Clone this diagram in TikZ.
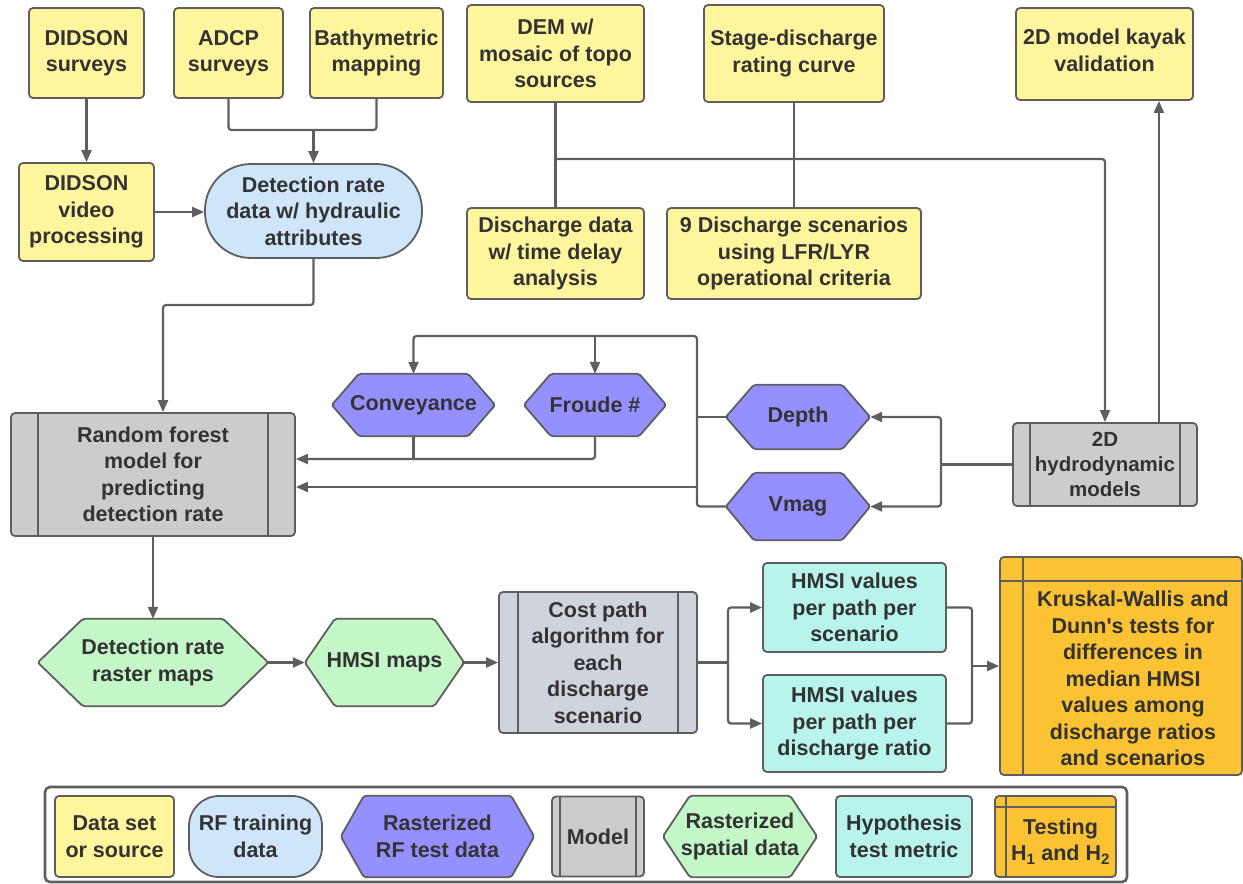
\documentclass[tikz,border=0pt]{standalone}
\usepackage{fontspec}
\setmainfont{Liberation Sans}
\usetikzlibrary{arrows.meta,backgrounds,calc}
\definecolor{edge}{HTML}{5E5E5E}
\definecolor{txt}{HTML}{333333}
\definecolor{ysrc}{HTML}{FFF59D}
\definecolor{bstad}{HTML}{CFE5FA}
\definecolor{purp}{HTML}{9490FF}
\definecolor{gproc}{HTML}{CCCCCC}
\definecolor{gcost}{HTML}{CED3DC}
\definecolor{grn}{HTML}{C3F7C8}
\definecolor{cyan}{HTML}{B8F4EC}
\definecolor{orng}{HTML}{FBC234}
\newcommand\mainfnt{\bfseries\fontsize{21.5}{26.5}\selectfont}
\newcommand\smallfnt{\bfseries\fontsize{20.5}{25}\selectfont}
% hexagon outline drawn behind a named node
\newcommand\hexof[3]{%
  \begin{pgfonlayer}{background}
    \path[draw=edge, line width=1.8pt, fill=#3, rounded corners=2pt]
      (#1.west) -- ([xshift=#2]#1.north west) -- ([xshift=-#2]#1.north east)
      -- (#1.east) -- ([xshift=-#2]#1.south east) -- ([xshift=#2]#1.south west) -- cycle;
  \end{pgfonlayer}}
% the two inner bars of a process box
\newcommand\barsof[2]{%
  \draw[draw=edge, line width=1.8pt] ([xshift=#2]#1.north west) -- ([xshift=#2]#1.south west);
  \draw[draw=edge, line width=1.8pt] ([xshift=-#2]#1.north east) -- ([xshift=-#2]#1.south east);}
\begin{document}
\begin{tikzpicture}[x=1pt,y=-1pt,
  box/.style={draw=edge, line width=1.8pt, rounded corners=4pt, inner sep=0pt,
              align=center, text=txt, font=\mainfnt},
  src/.style={box, fill=ysrc},
  proc/.style={box, fill=gproc},
  metric/.style={box, fill=cyan},
  hexn/.style={inner sep=0pt, align=center, text=txt, font=\mainfnt},
  con/.style={draw=edge, line width=2.2pt, rounded corners=3pt},
  arr/.style={con, -{Triangle[length=12pt,width=10pt]}}]
\useasboundingbox (0,0) rectangle (1243,884);

% ---- data sources
\node[src, minimum width=115pt, minimum height=90pt] (didson) at (86.5,53) {DIDSON\\surveys};
\node[src, minimum width=109pt, minimum height=90pt] (adcp) at (228.5,53) {ADCP\\surveys};
\node[src, minimum width=133pt, minimum height=90pt] (bathy) at (376.5,53) {Bathymetric\\mapping};
\node[src, minimum width=177pt, minimum height=97pt] (dem) at (555.5,53.5) {DEM w/\\mosaic of topo\\sources};
\node[src, minimum width=180pt, minimum height=97pt] (stage) at (794,53.5) {Stage-discharge\\rating curve};
\node[src, minimum width=177pt, minimum height=92pt] (kayak) at (1104.5,54) {};
\node[hexn] (kayaktext) at ([yshift=3.5pt]kayak.center) {2D model kayak\\validation};
\node[src, minimum width=135pt, minimum height=98pt] (dvid) at (86.5,212) {DIDSON\\video\\processing};
\node[box, fill=bstad, rounded corners=46pt, minimum width=217pt, minimum height=94pt] (detect) at (313.5,211) {Detection rate\\data w/ hydraulic\\attributes};
\node[src, minimum width=177pt, minimum height=91pt] (qdata) at (555.5,253.5) {Discharge data\\w/ time delay\\analysis};
\node[src, minimum width=254pt, minimum height=91pt] (scen) at (794,253.5) {9 Discharge scenarios\\using LFR/LYR\\operational criteria};

% ---- models
\node[proc, minimum width=284pt, minimum height=123pt] (rf) at (153,474.5) {Random forest\\model for\\predicting\\detection rate};
\barsof{rf}{28pt}
\node[proc, minimum width=184pt, minimum height=83pt, font=\smallfnt] (hydro) at (1105,464.5) {2D\\hydrodynamic\\models};
\barsof{hydro}{18pt}

% ---- raster test data
\node[hexn, minimum width=163pt, minimum height=62pt] (conv) at (413.5,405) {Conveyance};
\hexof{conv}{27pt}{purp}
\node[hexn, minimum width=142pt, minimum height=62pt] (froude) at (595,405) {Froude \#};
\hexof{froude}{27pt}{purp}
\node[hexn, minimum width=144pt, minimum height=64pt] (depth) at (798,417) {Depth};
\hexof{depth}{28pt}{purp}
\node[hexn, minimum width=144pt, minimum height=67pt] (vmag) at (798,506.5) {Vmag};
\hexof{vmag}{28pt}{purp}

% ---- spatial data and analysis
\node[hexn, minimum width=230pt, minimum height=87pt] (draster) at (153,662.5) {Detection rate\\raster maps};
\hexof{draster}{45pt}{grn}
\node[hexn, minimum width=159pt, minimum height=87pt] (hmaps) at (384.5,662.5) {HMSI maps};
\hexof{hmaps}{30pt}{grn}
\node[box, fill=gcost, minimum width=198pt, minimum height=141pt] (cost) at (598,662.5) {Cost path\\algorithm for\\each\\discharge\\scenario};
\barsof{cost}{20pt}
\node[metric, minimum width=183pt, minimum height=89pt] (hv1) at (854.5,607.5) {HMSI values\\per path per\\scenario};
\node[metric, minimum width=183pt, minimum height=97pt] (hv2) at (854.5,723.5) {HMSI values\\per path per\\discharge ratio};
\node[box, fill=orng, minimum width=242pt, minimum height=218pt] (kw) at (1121,666) {};
\draw[draw=edge, line width=1.8pt] ([xshift=24pt]kw.north west) -- ([xshift=24pt]kw.south west);
\draw[draw=edge, line width=1.8pt] ([yshift=-25pt]kw.north west) -- ([yshift=-25pt]kw.north east);
\node[hexn] (kwtext) at ([xshift=12pt,yshift=-12.5pt]kw.center) {Kruskal-Wallis and\\Dunn\textquotesingle s tests for\\differences in\\median HMSI\\values among\\discharge ratios\\and scenarios};

% ---- connectors, top part
\draw[arr] (didson.south) -- (dvid.north);
\coordinate (j1) at (313.5,130);
\draw[con] (adcp.south) |- (j1);
\draw[con] (bathy.south) |- (j1);
\draw[arr] (j1) -- (detect.north);
\draw[arr] (dvid.east) -- (dvid.east -| detect.west);
\draw[con] (dem.south) -- (qdata.north);
\draw[con] (stage.south) -- (scen.north);
\coordinate (j2) at (555.5,159);
\draw[arr] (j2) -| (hydro.north);
\coordinate (h1) at ([xshift=-39pt]hydro.north east);
\draw[arr] (h1) -- (h1 |- kayak.south);

% ---- connectors, hydraulic rasters
\coordinate (j3) at (941,464.5);
\draw[con] (hydro.west) -- (j3);
\draw[arr] (j3) |- (depth.east);
\draw[arr] (j3) |- (vmag.east);
\coordinate (k1) at (697,336);
\draw[con] (depth.west) -- (depth.west -| k1);
\draw[arr] (vmag.west) -| (k1) -| (conv.north);
\draw[arr] (froude.north |- k1) -- (froude.north);
\coordinate (k2) at (697,487);
\draw[arr] (k2) -- (k2 -| rf.east);
\coordinate (k3) at (413.5,459);
\draw[con] (conv.south) -- (k3);
\draw[arr] (froude.south) |- (k3 -| rf.east);
\coordinate (k4) at (163,305);
\draw[arr] (detect.south) |- (k4) -- (k4 |- rf.north);

% ---- connectors, bottom part
\draw[arr] (rf.south) -- (draster.north);
\draw[arr] (draster.east) -- (hmaps.west);
\draw[arr] (hmaps.east) -- (cost.west);
\coordinate (m1) at (728,662.5);
\draw[con] (cost.east) -- (m1);
\draw[arr] (m1) |- (hv1.west);
\draw[arr] (m1) |- (hv2.west);
\coordinate (m2) at (972,666);
\draw[con] (hv1.east) -| (m2);
\draw[con] (hv2.east) -| (m2);
\draw[arr] (m2) -- (m2 -| kw.west);

% ---- legend
\node[draw=edge, line width=2.6pt, rounded corners=5pt, minimum width=1082pt, minimum height=95pt] (legend) at (586,834.5) {};
\node[src, minimum width=119pt, minimum height=81pt] (lsrc) at (114.5,836.5) {Data set\\or source};
\node[box, fill=bstad, rounded corners=30pt, minimum width=133pt, minimum height=81pt] (ltrain) at (255.5,836.5) {RF training\\data};
\node[hexn, minimum width=193pt, minimum height=81pt] (ltest) at (437.5,836.5) {Rasterized\\RF test data};
\hexof{ltest}{23pt}{purp}
\node[proc, minimum width=92pt, minimum height=80pt] (lmodel) at (598,836.5) {Model};
\barsof{lmodel}{9pt}
\node[hexn, minimum width=154pt, minimum height=81pt] (lspat) at (740,836.5) {Rasterized\\spatial data};
\hexof{lspat}{27pt}{grn}
\node[metric, minimum width=136pt, minimum height=81pt] (lhyp) at (904,836.5) {Hypothesis\\test metric};
\node[box, fill=orng, minimum width=121pt, minimum height=81pt] (lh) at (1055.5,836.5) {};
\draw[draw=edge, line width=1.8pt] ([xshift=12pt]lh.north west) -- ([xshift=12pt]lh.south west);
\draw[draw=edge, line width=1.8pt] ([yshift=-12pt]lh.north west) -- ([yshift=-12pt]lh.north east);
\node[hexn] (lhtext) at ([xshift=5pt,yshift=-5pt]lh.center) {Testing\\H\textsubscript{1} and H\textsubscript{2}};
\end{tikzpicture}
\end{document}
